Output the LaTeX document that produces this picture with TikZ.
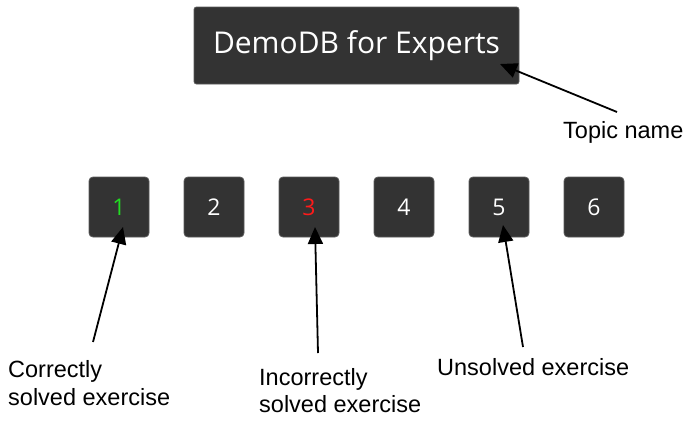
\documentclass[tikz,border=0pt]{standalone}
\usepackage{fontspec}
\setmainfont{Liberation Sans}
\newfontfamily\boxfont{Open Sans}
\usetikzlibrary{arrows.meta}
\definecolor{boxbg}{HTML}{333333}
\definecolor{boxedge}{HTML}{5A5A5A}
\definecolor{okgreen}{HTML}{22DD22}
\definecolor{badred}{HTML}{FF1A1A}
\begin{document}
\begin{tikzpicture}[x=1pt,y=-1pt,
  darkbox/.style={fill=boxbg,draw=boxedge,line width=0.8pt,rounded corners=2.5pt,inner sep=0pt},
  numbox/.style={darkbox,rounded corners=4pt,minimum width=60pt,minimum height=60pt,text=white,font=\boxfont\fontsize{23}{23}\selectfont},
  callout/.style={line width=1.8pt,-{Triangle[length=17pt,width=15pt]}},
  lbl/.style={font=\fontsize{23.5}{28}\selectfont,align=left,inner sep=0pt,anchor=base west}]
\useasboundingbox (0,0) rectangle (696,432);
\node[darkbox,minimum width=325pt,minimum height=77pt,text=white,font=\boxfont\fontsize{30}{30}\selectfont] (title) at (356.5,45.5) {DemoDB for Experts};
\node[numbox,text=okgreen] (s1) at (119,207) {1};
\node[numbox] (s2) at (214,207) {2};
\node[numbox,text=badred] (s3) at (309,207) {3};
\node[numbox] (s4) at (404,207) {4};
\node[numbox] (s5) at (499,207) {5};
\node[numbox] (s6) at (594,207) {6};
\node[lbl] (ltopic) at (563,138) {Topic name};
\node[lbl] (lcorrect) at (8,405) {Correctly\\solved exercise};
\node[lbl] (lincorrect) at (259,412) {Incorrectly\\[-1.5pt]solved exercise};
\node[lbl] (lunsolved) at (437,375) {Unsolved exercise};
\coordinate (ctopic) at (617,112);
\coordinate (ttopic) at (500,64);
\coordinate (c1) at (93,342);
\coordinate (t1) at (123,227);
\coordinate (c3) at (318,353);
\coordinate (t3) at (315,227);
\coordinate (c5) at (523,347);
\coordinate (t5) at (503,225);
\draw[callout] (ctopic) -- (ttopic);
\draw[callout] (c1) -- (t1);
\draw[callout] (c3) -- (t3);
\draw[callout] (c5) -- (t5);
\end{tikzpicture}
\end{document}
